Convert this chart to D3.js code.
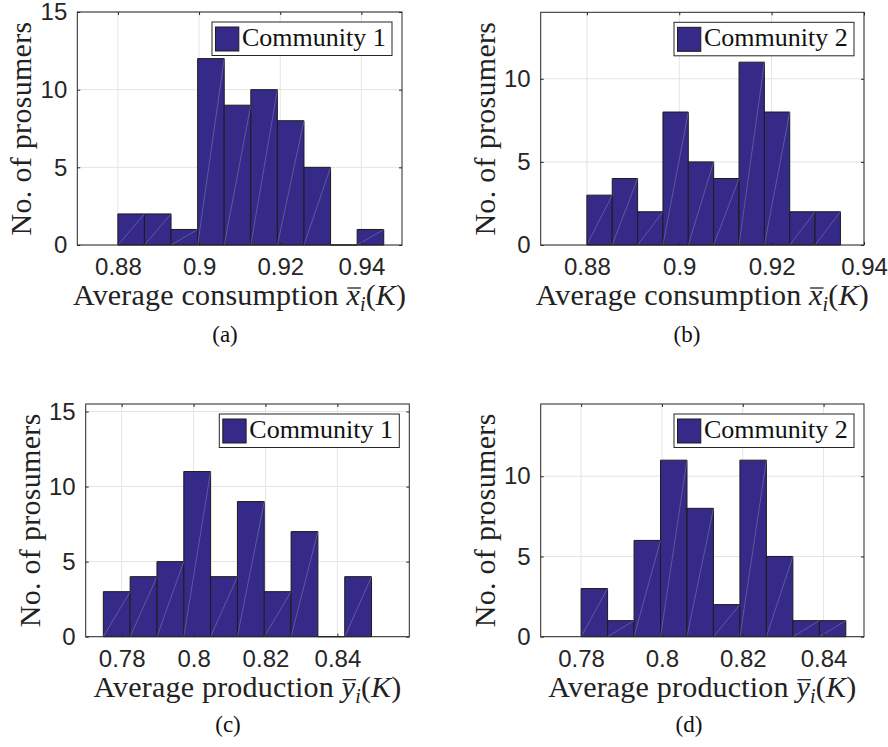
<!DOCTYPE html>
<html>
<head>
<meta charset="utf-8">
<script src="https://cdn.jsdelivr.net/npm/d3@7"></script>
<style>
  body { margin: 0; background: #fff; }
  svg { display: block; }
</style>
</head>
<body>
<script>
//  Histogram counts per bin
var consumptionC1 = [2, 2, 1, 12, 9, 10, 8, 5, 0, 1];
var consumptionC2 = [3, 4, 2, 8, 5, 4, 11, 8, 2, 2];
var productionC1 = [3, 4, 5, 11, 4, 9, 3, 7, 0, 4];
var productionC2 = [3, 1, 6, 11, 8, 2, 11, 5, 1, 1];

//  First bin edge and bin width of each histogram (a, b, c, d)
var binStarts = [0.88, 0.88, 0.7749, 0.78];
var binWidths = [0.00655, 0.00549, 0.00746, 0.00655];

//  Axis limits and tick values
var xLimits = [[0.87, 0.95], [0.87, 0.94], [0.77, 0.86], [0.77, 0.85]];
var yLimits = [[0, 15], [0, 14], [0, 15.5], [0, 14.5]];
var xTicksConsumption = [0.88, 0.9, 0.92, 0.94];
var xTicksProduction = [0.78, 0.8, 0.82, 0.84];
var yTicksTo15 = [0, 5, 10, 15];
var yTicksTo10 = [0, 5, 10];

var legendNames = ["Community 1", "Community 2"];
var captions = ["(a)", "(b)", "(c)", "(d)"];

var w = 888;
var h = 747;
var barColor = "#352a87";
var axisColor = "#262626";
var serifFont = "'Liberation Serif'";
var sansFont = "'Liberation Sans'";

//  Axes boxes in pixels, plus caption positions
var layout = [
    {x0: 77.3, x1: 402, y0: 12, y1: 245, cx: 225, cy: 342},
    {x0: 540.7, x1: 864, y0: 12.3, y1: 245, cx: 687, cy: 342},
    {x0: 85.7, x1: 409.3, y0: 404, y1: 636.7, cx: 228, cy: 732},
    {x0: 540.7, x1: 864, y0: 404, y1: 636.7, cx: 689, cy: 732}
];

var panels = [
    {counts: consumptionC1, xTicks: xTicksConsumption, yTicks: yTicksTo15, legend: legendNames[0], what: "consumption", sym: "x"},
    {counts: consumptionC2, xTicks: xTicksConsumption, yTicks: yTicksTo10, legend: legendNames[1], what: "consumption", sym: "x"},
    {counts: productionC1, xTicks: xTicksProduction, yTicks: yTicksTo15, legend: legendNames[0], what: "production", sym: "y"},
    {counts: productionC2, xTicks: xTicksProduction, yTicks: yTicksTo10, legend: legendNames[1], what: "production", sym: "y"}
];

var svg = d3.select("body")
    .append("svg")
    .attr("width", w)
    .attr("height", h);

panels.forEach(function(p, k) {
    var box = layout[k];
    var xScale = d3.scaleLinear().domain(xLimits[k]).range([box.x0, box.x1]);
    var yScale = d3.scaleLinear().domain(yLimits[k]).range([box.y1, box.y0]);
    var g = svg.append("g");

    //  Grid lines
    g.selectAll(".gx")
        .data(p.xTicks)
        .enter()
        .append("line")
        .attr("x1", function(d) { return xScale(d); })
        .attr("x2", function(d) { return xScale(d); })
        .attr("y1", box.y0)
        .attr("y2", box.y1)
        .attr("stroke", "#e4e4e4")
        .attr("stroke-width", 1);

    g.selectAll(".gy")
        .data(p.yTicks)
        .enter()
        .append("line")
        .attr("x1", box.x0)
        .attr("x2", box.x1)
        .attr("y1", function(d) { return yScale(d); })
        .attr("y2", function(d) { return yScale(d); })
        .attr("stroke", "#e4e4e4")
        .attr("stroke-width", 1);

    //  Bins from start + width
    var bins = p.counts.map(function(c, i) {
        return {lo: binStarts[k] + i * binWidths[k], hi: binStarts[k] + (i + 1) * binWidths[k], n: c};
    });

    //  Bars as closed paths so empty bins still show their edge
    g.selectAll(".bar")
        .data(bins)
        .enter()
        .append("path")
        .attr("d", function(d) {
            var a = xScale(d.lo), b = xScale(d.hi), y0 = yScale(0), y1 = yScale(d.n);
            return "M" + a + "," + y0 + "V" + y1 + "H" + b + "V" + y0 + "Z";
        })
        .attr("fill", barColor)
        .attr("stroke", "#1c1c1c")
        .attr("stroke-width", 1);

    //  Faint diagonal seams seen in the original rendering
    g.selectAll(".seam")
        .data(bins.filter(function(d) { return d.n > 0; }))
        .enter()
        .append("line")
        .attr("x1", function(d) { return xScale(d.lo); })
        .attr("y1", yScale(0))
        .attr("x2", function(d) { return xScale(d.hi); })
        .attr("y2", function(d) { return yScale(d.n); })
        .attr("stroke", "rgba(255,255,255,0.3)")
        .attr("stroke-width", 0.7);

    //  Axes, ticks inside on all four sides
    var fmt = function(d) { return String(d); };
    var bottom = g.append("g")
        .attr("transform", "translate(0," + box.y1 + ")")
        .call(d3.axisBottom(xScale).tickValues(p.xTicks).tickSize(-3).tickSizeOuter(0).tickPadding(13).tickFormat(fmt));
    var top = g.append("g")
        .attr("transform", "translate(0," + box.y0 + ")")
        .call(d3.axisTop(xScale).tickValues(p.xTicks).tickSize(-3).tickSizeOuter(0).tickFormat(""));
    var left = g.append("g")
        .attr("transform", "translate(" + box.x0 + ",0)")
        .call(d3.axisLeft(yScale).tickValues(p.yTicks).tickSize(-3).tickSizeOuter(0).tickPadding(10).tickFormat(fmt));
    var right = g.append("g")
        .attr("transform", "translate(" + box.x1 + ",0)")
        .call(d3.axisRight(yScale).tickValues(p.yTicks).tickSize(-3).tickSizeOuter(0).tickFormat(""));

    [bottom, top, left, right].forEach(function(a) {
        a.select(".domain").remove();
        a.selectAll("line").attr("stroke", axisColor);
        a.selectAll("text")
            .attr("fill", axisColor)
            .style("font-family", sansFont)
            .style("font-size", "24px");
    });

    g.append("rect")
        .attr("x", box.x0)
        .attr("y", box.y0)
        .attr("width", box.x1 - box.x0)
        .attr("height", box.y1 - box.y0)
        .attr("fill", "none")
        .attr("stroke", axisColor)
        .attr("stroke-width", 1);

    //  Legend
    var lx = box.x1 - 10 - 180;
    var ly = box.y0 + 10;
    g.append("rect")
        .attr("x", lx)
        .attr("y", ly)
        .attr("width", 180)
        .attr("height", 33.5)
        .attr("fill", "#fff")
        .attr("stroke", axisColor)
        .attr("stroke-width", 1);
    g.append("rect")
        .attr("x", lx + 3.5)
        .attr("y", ly + 5)
        .attr("width", 23.3)
        .attr("height", 24)
        .attr("fill", barColor)
        .attr("stroke", "#1c1c1c")
        .attr("stroke-width", 1);
    g.append("text")
        .attr("x", lx + 30)
        .attr("y", ly + 24)
        .style("font-family", serifFont)
        .style("font-size", "26px")
        .attr("fill", "#111")
        .text(p.legend);

    //  X-axis label, overline on the symbol drawn by hand
    var lead = "Average " + p.what + " ";
    var xl = g.append("text")
        .attr("x", (box.x0 + box.x1) / 2)
        .attr("y", box.y1 + 60)
        .attr("text-anchor", "middle")
        .style("font-family", serifFont)
        .style("font-size", "30px")
        .style("letter-spacing", "0.2px")
        .attr("fill", "#222");
    xl.append("tspan").text(lead);
    xl.append("tspan").style("font-style", "italic").text(p.sym);
    xl.append("tspan").style("font-style", "italic").style("font-size", "20px").attr("dy", 6).text("i");
    xl.append("tspan").attr("dy", -6).text("(");
    xl.append("tspan").style("font-style", "italic").text("K");
    xl.append("tspan").text(")");

    var node = xl.node();
    var s0 = node.getStartPositionOfChar(lead.length);
    var s1 = node.getEndPositionOfChar(lead.length);
    g.append("line")
        .attr("x1", s0.x + 1)
        .attr("x2", s1.x + 1)
        .attr("y1", box.y1 + 60 - 17)
        .attr("y2", box.y1 + 60 - 17)
        .attr("stroke", "#222")
        .attr("stroke-width", 1.3);

    //  Y-axis label
    g.append("text")
        .attr("transform", "rotate(-90)")
        .attr("x", -(box.y0 + box.y1) / 2)
        .attr("y", box.x0 - 46)
        .attr("text-anchor", "middle")
        .style("font-family", serifFont)
        .style("font-size", "30px")
        .style("letter-spacing", "0.3px")
        .attr("fill", "#222")
        .text("No. of prosumers");

    //  Caption
    g.append("text")
        .attr("x", box.cx)
        .attr("y", box.cy)
        .attr("text-anchor", "middle")
        .style("font-family", serifFont)
        .style("font-size", "23px")
        .attr("fill", "#111")
        .text(captions[k]);
});
</script>
</body>
</html>
